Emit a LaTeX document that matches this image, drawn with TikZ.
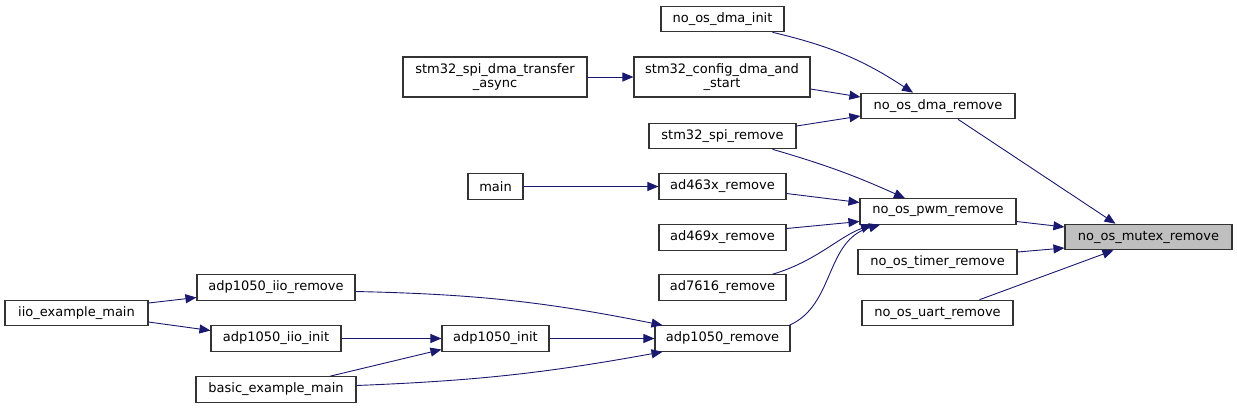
\documentclass[tikz,border=0pt]{standalone}
\usepackage{fontspec}
\setmainfont{DejaVu Sans}
\usetikzlibrary{arrows.meta}
\definecolor{edgeblue}{HTML}{191970}
\definecolor{boxgray}{HTML}{BFBFBF}
\begin{document}
\begin{tikzpicture}[x=1pt,y=-1pt,
    fn/.style={draw=black!80,line width=1.1pt,inner sep=0pt,minimum height=25.5,
      font=\fontsize{13}{14.5}\selectfont,align=center},
    call/.style={draw=edgeblue,line width=0.9pt,-{Triangle[length=11pt,width=9pt]}}]
  \useasboundingbox (0,0) rectangle (1237,408);
  % the function itself and its direct callers
  \node[fn,minimum width=167,fill=boxgray] (mutexremove) at (1148.5,237) {no\_os\_mutex\_remove};
  \node[fn,minimum width=154] (dmaremove)   at (938,106)   {no\_os\_dma\_remove};
  \node[fn,minimum width=156] (pwmremove)   at (938,211.5) {no\_os\_pwm\_remove};
  \node[fn,minimum width=159] (timerremove) at (937.5,262) {no\_os\_timer\_remove};
  \node[fn,minimum width=151] (uartremove)  at (937.5,313) {no\_os\_uart\_remove};
  % second column
  \node[fn,minimum width=123] (dmainit)       at (722.5,19)    {no\_os\_dma\_init};
  \node[fn,minimum width=176,minimum height=40] (configdma) at (722,77) {stm32\_config\_dma\_and\\\_start};
  \node[fn,minimum width=147] (spiremove)     at (722.5,136)   {stm32\_spi\_remove};
  \node[fn,minimum width=127] (adfourremove)  at (722.5,186.5) {ad463x\_remove};
  \node[fn,minimum width=127] (adnineremove)  at (722.5,237.5) {ad469x\_remove};
  \node[fn,minimum width=127] (adsevenremove) at (722.5,287.5) {ad7616\_remove};
  \node[fn,minimum width=135] (adpremove)     at (722.5,338.5) {adp1050\_remove};
  % third column
  \node[fn,minimum width=184,minimum height=40] (spidmaasync) at (495,77) {stm32\_spi\_dma\_transfer\\\_async};
  \node[fn,minimum width=55]  (mainfn)  at (495.5,186.5) {main};
  \node[fn,minimum width=107] (adpinit) at (495.5,338.5) {adp1050\_init};
  % fourth and fifth column
  \node[fn,minimum width=158] (iioremove)   at (276,287.5) {adp1050\_iio\_remove};
  \node[fn,minimum width=130] (iioinit)     at (276,338.5) {adp1050\_iio\_init};
  \node[fn,minimum width=160] (basicmain)   at (276,389.5) {basic\_example\_main};
  \node[fn,minimum width=143] (iioexample)  at (76.5,313)  {iio\_example\_main};

  % calls into no_os_mutex_remove
  \draw[call] ([xshift=20]dmaremove.south) -- ([xshift=-33]mutexremove.north);
  \draw[call] ([yshift=-10]pwmremove.east) -- ([yshift=10]mutexremove.west);
  \draw[call] ([yshift=10]timerremove.east) -- ([yshift=-11]mutexremove.west);
  \draw[call] ([xshift=42]uartremove.north) -- ([xshift=-35]mutexremove.south);
  % calls into no_os_dma_remove
  \draw[call] ([xshift=50]dmainit.south) to[bend left=10] ([xshift=-25]dmaremove.north);
  \draw[call] ([yshift=-12]configdma.east) -- ([yshift=9]dmaremove.west);
  \draw[call] ([yshift=10]spiremove.east) -- ([yshift=-10]dmaremove.west);
  \draw[call] (spidmaasync.east) -- (configdma.west);
  % calls into no_os_pwm_remove
  \draw[call] ([xshift=50]spiremove.south) to[bend left=4] ([xshift=-33]pwmremove.north);
  \draw[call] (mainfn.east) -- (adfourremove.west);
  \draw[call] ([yshift=-7]adfourremove.east) -- ([yshift=9]pwmremove.west);
  \draw[call] ([yshift=9]adnineremove.east) -- ([yshift=-10]pwmremove.west);
  \draw[call] ([xshift=50]adsevenremove.north) .. controls (815,262) and (840,236) .. ([xshift=-66]pwmremove.south);
  \draw[call] ([xshift=67]adpremove.north) .. controls (835,305) and (825,240) .. ([xshift=-58]pwmremove.south);
  % calls into adp1050_remove
  \draw[call] (adpinit.east) -- (adpremove.west);
  \draw[call] ([yshift=-4]iioremove.east) to[bend left=5] ([xshift=-60]adpremove.north);
  \draw[call] ([yshift=4]basicmain.east) to[bend right=4] ([xshift=-60]adpremove.south);
  \draw[call] (iioinit.east) -- (adpinit.west);
  \draw[call] ([xshift=54]basicmain.north) -- ([yshift=-11]adpinit.west);
  \draw[call] ([yshift=10]iioexample.east) -- ([yshift=-10]iioremove.west);
  \draw[call] ([yshift=-9]iioexample.east) -- ([yshift=8]iioinit.west);
\end{tikzpicture}
\end{document}
